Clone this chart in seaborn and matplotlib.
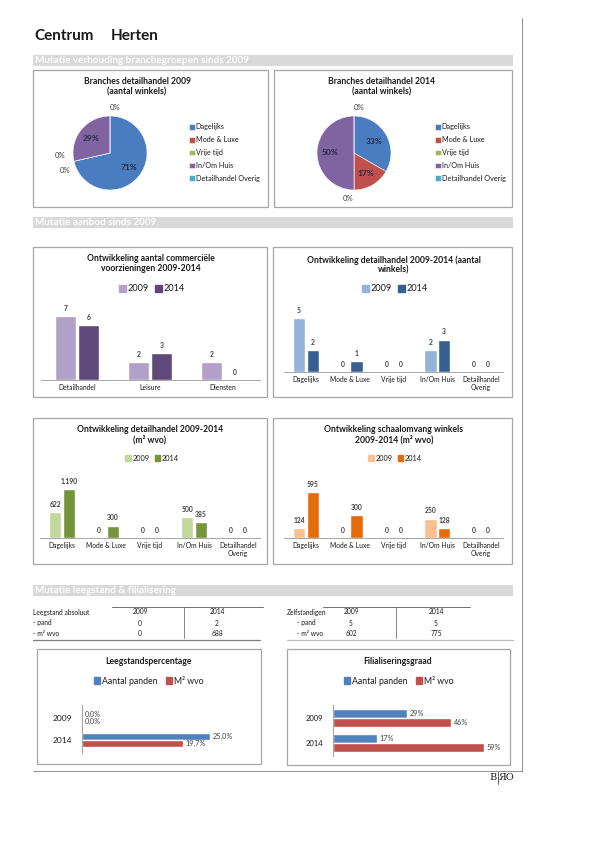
import matplotlib
matplotlib.use('Agg')
import matplotlib.pyplot as plt
from matplotlib.patches import Rectangle, Patch
import seaborn as sns
import pandas as pd

W, H = 595, 842

# ---- data ----
branches = ['Dagelijks', 'Mode & Luxe', 'Vrije tijd', 'In/Om Huis', 'Detailhandel Overig']
branch_ticks = ['Dagelijks', 'Mode & Luxe', 'Vrije tijd', 'In/Om Huis', 'Detailhandel\nOverig']
winkels_2009 = [5, 0, 0, 2, 0]
winkels_2014 = [2, 1, 0, 3, 0]

sectoren = ['Detailhandel', 'Leisure', 'Diensten']
voorz_2009 = [7, 2, 2]
voorz_2014 = [6, 3, 0]

wvo_2009 = [622, 0, 0, 500, 0]
wvo_2014 = [1190, 300, 0, 385, 0]

schaal_2009 = [124, 0, 0, 250, 0]
schaal_2014 = [595, 300, 0, 128, 0]

jaren = ['2009', '2014']
reeksen = ['Aantal panden', 'M² wvo']
leeg_panden = [0.0, 25.0]
leeg_m2 = [0.0, 19.7]
filiaal_panden = [29, 17]
filiaal_m2 = [46, 59]

leeg_pand_abs = [0, 2]
leeg_m2_abs = [0, 688]
zelf_pand = [5, 5]
zelf_m2 = [602, 775]

pie_colors = ['#4a7dbf', '#c0504d', '#9bbb59', '#8064a2', '#4bacc6']

# ---- setup ----
sns.set_theme(style='white')
plt.rcParams['font.family'] = ['Lato', 'DejaVu Sans']
plt.rcParams['text.color'] = '#1a1a1a'

fig = plt.figure(figsize=(W / 100, H / 100), dpi=100)
fig.patch.set_facecolor('white')


def box(x0, y0, x1, y1):
    # pixel box (top-left origin) -> figure fraction rect
    return [x0 / W, 1 - y1 / H, (x1 - x0) / W, (y1 - y0) / H]


def fpos(x, y):
    return (x / W, 1 - y / H)


# background layer in pixel units
bg = fig.add_axes([0, 0, 1, 1])
bg.set_xlim(0, W)
bg.set_ylim(H, 0)
bg.axis('off')

bg.text(34, 36, 'Centrum', fontsize=11, fontweight='bold', va='center')
bg.text(111, 36, 'Herten', fontsize=11, fontweight='bold', va='center')

for y, txt in [(55, 'Mutatie verhouding branchegroepen sinds 2009'),
               (217, 'Mutatie aanbod sinds 2009'),
               (585, 'Mutatie leegstand & filialisering')]:
    bg.add_patch(Rectangle((33, y), 480, 11, color='#d9d9d9', lw=0))
    bg.text(35, y + 5.8, txt, color='white', fontsize=7.2, fontweight='bold', va='center')

for x0, y0, x1, y1 in [(33, 70, 268, 207), (274, 70, 512, 207),
                       (33, 247, 267, 397), (273, 247, 512, 397),
                       (33, 418, 267, 564), (273, 418, 512, 564),
                       (37, 649, 261, 764), (287, 649, 510, 765)]:
    bg.add_patch(Rectangle((x0, y0), x1 - x0, y1 - y0, fill=False, ec='#a6a6a6', lw=0.9))

# page frame and logo
bg.plot([522, 522], [18, 771], color='#7f7f7f', lw=0.6)
bg.plot([33, 522], [771, 771], color='#7f7f7f', lw=0.6)
bg.text(496.5, 777.5, 'B', family='DejaVu Serif', fontsize=7, ha='right', va='center')
bg.text(499, 777.5, 'ЯO', family='DejaVu Serif', fontsize=7, ha='left', va='center')
bg.plot([497.7, 497.7], [772, 784], color='#1a1a1a', lw=0.5)


# ---- pies ----
def pie(cx, cy, vals, title, tx, legx):
    r = 37
    ax = fig.add_axes(box(cx - 1.25 * r, cy - 1.25 * r, cx + 1.25 * r, cy + 1.25 * r))
    wedges, texts, autotexts = ax.pie(
        vals, colors=pie_colors, startangle=90, counterclock=False,
        labels=['0%' if v == 0 else '' for v in vals], labeldistance=1.22,
        autopct=lambda p: f'{p:.0f}%' if p > 0.5 else '', pctdistance=0.64,
        wedgeprops=dict(edgecolor='white', linewidth=0.4),
        textprops=dict(fontsize=5.6, color='#404040'))
    for t in autotexts:
        t.set_fontweight('bold')
        t.set_fontsize(6)
        t.set_color('#1f2a44')
    # separate zero labels that land on the same spot
    prev = None
    for t in texts:
        if not t.get_text():
            continue
        if prev is not None and prev.get_position() == t.get_position():
            x, y = t.get_position()
            prev.set_position((x, y + 0.2))
            t.set_position((x + 0.12, y - 0.2))
        prev = t
    ax.set_xlim(-1.25, 1.25)
    ax.set_ylim(-1.25, 1.25)
    ax.set_aspect('equal')
    bg.text(tx, 87, title, fontsize=6.2, fontweight='bold', ha='center', va='center', linespacing=1.15)
    fig.legend(wedges, branches, loc='upper left', bbox_to_anchor=fpos(legx, 123.5),
               frameon=False, fontsize=5.2, handlelength=0.8, handleheight=0.8,
               handletextpad=0.15, labelspacing=0.8, borderpad=0, borderaxespad=0)


pie(110, 153, winkels_2009, 'Branches detailhandel 2009\n(aantal winkels)', 137, 189)
pie(354, 153, winkels_2014, 'Branches detailhandel 2014\n(aantal winkels)', 382, 435)


# ---- vertical bar charts ----
def bar_chart(rect, cats, ticks, v09, v14, colors, ymax, title, tpos, lpos, lsize,
              fmt=lambda v: f'{v:.0f}'):
    ax = fig.add_axes(box(*rect))
    df = pd.DataFrame({'cat': cats * 2,
                       'jaar': [jaren[0]] * len(cats) + [jaren[1]] * len(cats),
                       'val': v09 + v14})
    sns.barplot(data=df, x='cat', y='val', hue='jaar', palette=colors, width=0.63,
                gap=0.1, saturation=1, errorbar=None, legend=False, ax=ax)
    for c in ax.containers:
        ax.bar_label(c, labels=[fmt(v) for v in c.datavalues], padding=3,
                     fontsize=4.9, fontweight='bold', color='#404040')
    ax.set_ylim(0, ymax)
    ax.set_xlim(-0.5, len(cats) - 0.5)
    ax.set_xticks(range(len(cats)))
    ax.set_xticklabels(ticks, fontsize=4.9, color='#1a1a1a', linespacing=1.1)
    ax.tick_params(axis='x', length=0, pad=3)
    ax.set_yticks([])
    ax.set_xlabel('')
    ax.set_ylabel('')
    for s in ['top', 'right', 'left']:
        ax.spines[s].set_visible(False)
    ax.spines['bottom'].set_color('#a6a6a6')
    ax.spines['bottom'].set_linewidth(0.7)
    ax.patch.set_alpha(0)
    bg.text(tpos[0], tpos[1], title, fontsize=6.2, fontweight='bold', ha='center',
            va='center', linespacing=1.15)
    fig.legend([Patch(color=colors[0]), Patch(color=colors[1])], jaren, loc='center',
               bbox_to_anchor=fpos(*lpos), ncol=2, frameon=False, fontsize=lsize,
               handlelength=0.75, handleheight=0.75, handletextpad=0.2,
               columnspacing=0.7, borderpad=0, borderaxespad=0)


bar_chart((40.5, 300, 259.5, 380), sectoren, sectoren, voorz_2009, voorz_2014,
          ['#b1a0c7', '#5f497a'], 8.8,
          'Ontwikkeling aantal commerciële\nvoorzieningen 2009-2014', (151, 263.5), (152, 289), 6.6)
bar_chart((284, 300, 503, 372), branches, branch_ticks, winkels_2009, winkels_2014,
          ['#95b3d7', '#376092'], 6.67,
          'Ontwikkeling detailhandel 2009-2014 (aantal\nwinkels)', (394, 265), (395, 289), 6.6)
bar_chart((40, 475, 260, 538), branches, branch_ticks, wvo_2009, wvo_2014,
          ['#c3d69b', '#77933c'], 1530,
          'Ontwikkeling detailhandel 2009-2014\n(m² wvo)', (150, 435), (152, 458), 5.3,
          fmt=lambda v: f'{v:,.0f}'.replace(',', '.'))
bar_chart((284, 475, 503, 538), branches, branch_ticks, schaal_2009, schaal_2014,
          ['#fac090', '#e46c0a'], 813,
          'Ontwikkeling schaalomvang winkels\n2009-2014 (m² wvo)', (394, 435), (395, 458), 5.3)


# ---- horizontal bar charts ----
def hbar(rect, panden, m2, xmax, ylim, width, fmt, tick_size, title, tx):
    ax = fig.add_axes(box(*rect))
    df = pd.DataFrame({'jaar': jaren * 2,
                       'reeks': [reeksen[0]] * 2 + [reeksen[1]] * 2,
                       'pct': panden + m2})
    colors = ['#4f81bd', '#c0504d']
    sns.barplot(data=df, y='jaar', x='pct', hue='reeks', orient='h', palette=colors,
                width=width, gap=0, saturation=1, errorbar=None, legend=False, ax=ax)
    for c in ax.containers:
        ax.bar_label(c, labels=[fmt(v) for v in c.datavalues], padding=2,
                     fontsize=5.2, color='#404040')
    ax.set_xlim(0, xmax)
    ax.set_ylim(*ylim)
    ax.set_xticks([])
    ax.set_xlabel('')
    ax.set_ylabel('')
    ax.tick_params(axis='y', length=0, pad=7, labelsize=tick_size, labelcolor='#1a1a1a')
    for s in ['top', 'right', 'bottom']:
        ax.spines[s].set_visible(False)
    ax.spines['left'].set_color('#a6a6a6')
    ax.spines['left'].set_linewidth(0.8)
    ax.patch.set_alpha(0)
    bg.text(tx, 662, title, fontsize=6.2, fontweight='bold', ha='center', va='center')
    fig.legend([Patch(color=colors[0]), Patch(color=colors[1])], reeksen, loc='center',
               bbox_to_anchor=fpos(tx + 1, 681), ncol=2, frameon=False, fontsize=6.3,
               handlelength=0.7, handleheight=0.7, handletextpad=0.2,
               columnspacing=1.0, borderpad=0, borderaxespad=0)


hbar((82, 705, 240, 753), leeg_panden, leeg_m2, 30.9, (1.59, -0.59), 0.65,
     lambda v: f'{v:.1f}%'.replace('.', ','), 6, 'Leegstandspercentage', 148)
hbar((333, 705, 500, 756), filiaal_panden, filiaal_m2, 65.2, (1.52, -0.52), 0.7,
     lambda v: f'{v:.0f}%', 5.5, 'Filialiseringsgraad', 398)


# ---- tables ----
def table(x_label, x_rows, label, col_x, rows, top_line, vline, bottom_line, bottom_col):
    fs = 4.8
    bg.text(x_label, 612, label, fontsize=fs, va='center')
    for cx, j in zip(col_x, jaren):
        bg.text(cx, 612, j, fontsize=fs, ha='center', va='center')
    for (name, vals), y in zip(rows, [623, 633]):
        bg.text(x_rows, y, name, fontsize=fs, va='center')
        for cx, v in zip(col_x, vals):
            bg.text(cx, y, str(v), fontsize=fs, ha='center', va='center')
    bg.plot(top_line, [607, 607], color='#595959', lw=0.6)
    bg.plot([vline, vline], [607, 638], color='#595959', lw=0.5)
    bg.plot(bottom_line, [640, 640], color=bottom_col, lw=0.9)


table(33, 33, 'Leegstand absoluut', [140, 217],
      [('- pand', leeg_pand_abs), ('- m² wvo', leeg_m2_abs)],
      [112, 263], 184, [33, 260], '#7f7f7f')
table(287, 297, 'Zelfstandigen', [351, 436],
      [('- pand', zelf_pand), ('- m² wvo', zelf_m2)],
      [323, 470], 396, [287, 513], '#bfbfbf')

fig.savefig('out.png', dpi=100)
